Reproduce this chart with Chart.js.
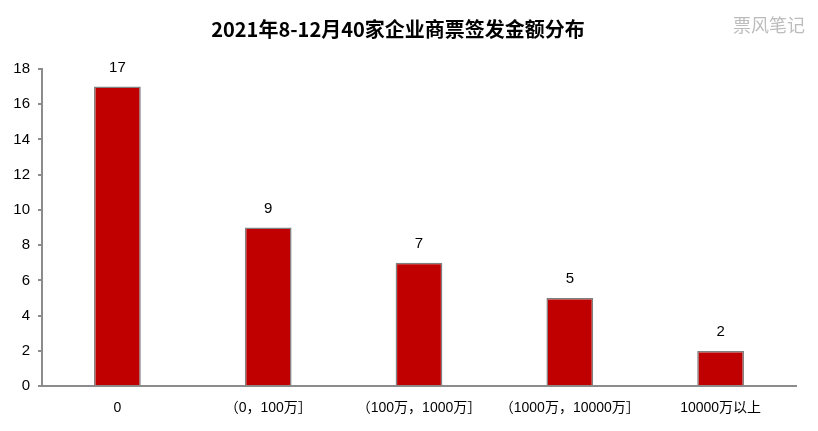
<!DOCTYPE html>
<html>
<head>
<meta charset="utf-8">
<script src="https://cdn.jsdelivr.net/npm/chart.js@4.4.1/dist/chart.umd.min.js"></script>
<style>
  html, body { margin: 0; padding: 0; background: #fff; }
  #wrap { width: 818px; height: 431px; }
</style>
</head>
<body>
<div id="wrap"><canvas id="chart" width="818" height="431"></canvas></div>
<script>
// 数据
const categories = ['0', '（0，100万］', '（100万，1000万］', '（1000万，10000万］', '10000万以上'];
const counts = [17, 9, 7, 5, 2];
const yTicks = [0, 2, 4, 6, 8, 10, 12, 14, 16, 18];

const titleText = '2021年8-12月40家企业商票签发金额分布';
const watermarkText = '票风笔记';

// 柱顶数值 + 水印
const labelPlugin = {
    id: 'barLabels',
    afterDatasetsDraw(chart) {
        const ctx = chart.ctx;
        const meta = chart.getDatasetMeta(0);
        ctx.save();
        ctx.fillStyle = '#000';
        ctx.font = '15px "Liberation Sans", Arial, sans-serif';
        ctx.textAlign = 'center';
        ctx.textBaseline = 'middle';
        meta.data.forEach((bar, i) => {
            ctx.fillText(String(counts[i]), bar.x, bar.y - 19);
        });
        // 水印
        ctx.fillStyle = '#bcbcbc';
        ctx.font = '18px "Noto Sans CJK SC", sans-serif';
        ctx.textAlign = 'center';
        ctx.fillText(watermarkText, 769, 25);
        ctx.restore();
    }
};

const axisColor = '#8c8c8c';

new Chart(document.getElementById('chart').getContext('2d'), {
    type: 'bar',
    data: {
        labels: categories,
        datasets: [{
            data: counts,
            backgroundColor: '#c00000',
            borderColor: '#808080',
            borderWidth: 1.5,
            barPercentage: 0.31,
            categoryPercentage: 1
        }]
    },
    options: {
        responsive: false,
        animation: false,
        layout: { padding: { left: 0, right: 22, top: 0, bottom: 0 } },
        plugins: {
            legend: { display: false },
            tooltip: { enabled: false },
            title: {
                display: true,
                text: titleText,
                color: '#000',
                font: { family: '"Noto Sans CJK SC", sans-serif', size: 20, weight: 'bold', lineHeight: 1.2 },
                padding: { top: 17, bottom: 28 }
            }
        },
        scales: {
            x: {
                grid: { display: false, drawTicks: false },
                border: { color: axisColor, width: 2 },
                ticks: {
                    color: '#000',
                    padding: 14,
                    maxRotation: 0,
                    autoSkip: false,
                    font: { family: '"Liberation Sans", "Noto Sans CJK SC", sans-serif', size: 14 }
                }
            },
            y: {
                min: 0,
                max: 18,
                afterBuildTicks(scale) {
                    scale.ticks = yTicks.map(v => ({ value: v }));
                },
                afterFit(scale) {
                    scale.width = 42;
                },
                grid: { drawOnChartArea: false, drawTicks: true, tickLength: 4, color: axisColor, lineWidth: 2 },
                border: { color: axisColor, width: 2 },
                ticks: {
                    color: '#000',
                    padding: 8,
                    font: { family: '"Liberation Sans", Arial, sans-serif', size: 15 }
                }
            }
        }
    },
    plugins: [labelPlugin]
});
</script>
</body>
</html>
